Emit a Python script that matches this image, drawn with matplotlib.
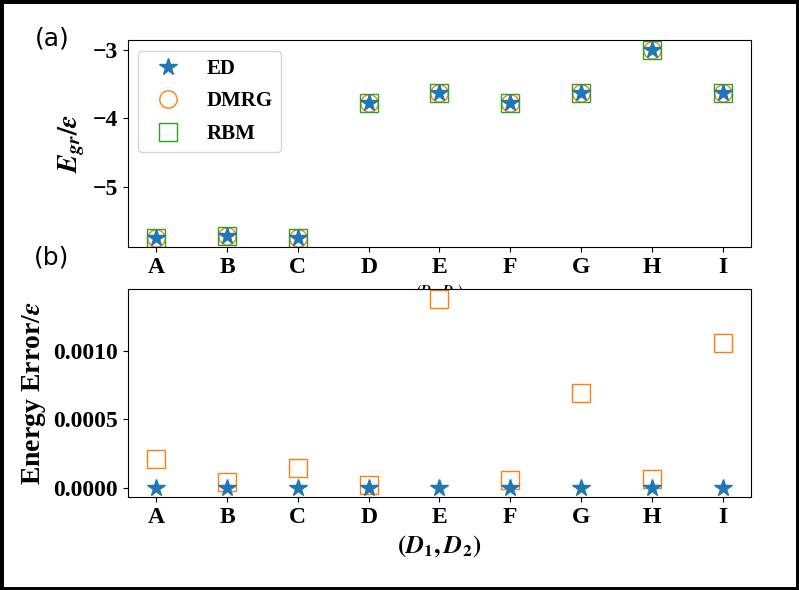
import matplotlib
matplotlib.use("Agg")
import matplotlib.pyplot as plt
from matplotlib.patches import Rectangle

plt.rcParams['mathtext.fontset'] = 'stix'
plt.rcParams['font.family'] = ['Liberation Serif', 'DejaVu Serif']
plt.rcParams['font.weight'] = 'bold'

categories = ['A', 'B', 'C', 'D', 'E', 'F', 'G', 'H', 'I']
energy_ed = [-5.74, -5.72, -5.74, -3.78, -3.63, -3.78, -3.64, -3.00, -3.64]
energy_dmrg = [-5.74, -5.72, -5.74, -3.78, -3.63, -3.78, -3.64, -3.00, -3.64]
energy_rbm = [-5.74, -5.72, -5.74, -3.78, -3.63, -3.78, -3.64, -3.00, -3.64]
error_ed = [0.0, 0.0, 0.0, 0.0, 0.0, 0.0, 0.0, 0.0, 0.0]
error_rbm = [0.000210, 0.000039, 0.000142, 0.000022, 0.001384,
             0.000059, 0.000690, 0.000061, 0.001061]

x = list(range(len(categories)))

fig = plt.figure(figsize=(7.99, 5.90), dpi=100)
ax1 = fig.add_axes([0.160, 0.5814, 0.780, 0.3506])
ax2 = fig.add_axes([0.160, 0.1576, 0.780, 0.3524])

blue, orange, green = '#1f77b4', '#ff7f0e', '#2ca02c'

ax1.plot(x, energy_ed, linestyle='none', marker='*', color=blue, markersize=13, label='ED', zorder=3)
ax1.plot(x, energy_dmrg, linestyle='none', marker='o', markerfacecolor='none',
         markeredgecolor=orange, markersize=12.5, label='DMRG', zorder=2)
ax1.plot(x, energy_rbm, linestyle='none', marker='s', markerfacecolor='none',
         markeredgecolor=green, markersize=12.5, label='RBM', zorder=2)
ax1.set_xticks(x)
ax1.set_xticklabels(categories)
ax1.set_yticks([-5, -4, -3])
ax1.set_ylabel(r'$\mathbfit{E}_{\mathbfit{gr}}/\mathbfit{\varepsilon}$', fontsize=20)
ax1.set_xlabel(r'$(\mathbfit{D}_{\mathbf{1}},\mathbfit{D}_{\mathbf{2}})$', fontsize=10)
leg = ax1.legend(loc='upper left', prop={'family': 'Liberation Serif', 'weight': 'bold', 'size': 15},
                 borderpad=0.4, labelspacing=0.6, handlelength=2.1, handletextpad=0.8,
                 borderaxespad=0.5)

ax2.plot(x, error_ed, linestyle='none', marker='*', color=blue, markersize=13, zorder=3)
ax2.plot(x, error_rbm, linestyle='none', marker='s', markerfacecolor='none',
         markeredgecolor=orange, markersize=12.5, zorder=2)
ax2.set_xticks(x)
ax2.set_xticklabels(categories)
ax2.set_yticks([0.0, 0.0005, 0.0010])
ax2.set_yticklabels(['0.0000', '0.0005', '0.0010'])
ax2.set_ylabel(r'Energy Error/$\mathbfit{\varepsilon}$', fontsize=20, fontweight='bold')
ax2.set_xlabel(r'$(\mathbfit{D}_{\mathbf{1}},\mathbfit{D}_{\mathbf{2}})$', fontsize=18)

for ax in (ax1, ax2):
    ax.tick_params(labelsize=17)
    for lab in ax.get_xticklabels() + ax.get_yticklabels():
        lab.set_fontweight('bold')

fig.text(0.065, 0.935, '(a)', fontsize=18, family='DejaVu Sans', fontweight='normal',
         ha='center', va='center')
fig.text(0.065, 0.563, '(b)', fontsize=18, family='DejaVu Sans', fontweight='normal',
         ha='center', va='center')

fig.patches.append(Rectangle((0, 0), 1, 1, transform=fig.transFigure, fill=False,
                             edgecolor='black', linewidth=5, zorder=10))

fig.savefig('out.png', dpi=100)
